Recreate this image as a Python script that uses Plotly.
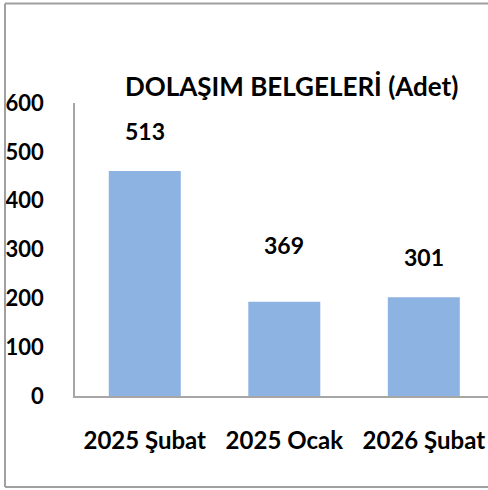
import plotly.graph_objects as go

categories = ["2025 Şubat", "2025 Ocak", "2026 Şubat"]
bar_values = [461, 193, 202]
label_texts = ["513", "369", "301"]
y_ticks = [0, 100, 200, 300, 400, 500, 600]
title_text = "DOLAŞIM BELGELERİ (Adet)"

FONT = "Lato"
label_shift = [40, 57, 40]

fig = go.Figure()
fig.add_trace(go.Bar(
    x=categories, y=bar_values,
    marker=dict(color="#8DB3E2", line=dict(width=0)),
    width=0.516,
    hoverinfo="skip",
))

for c, v, t, s in zip(categories, bar_values, label_texts, label_shift):
    fig.add_annotation(x=c, y=v, text=t, showarrow=False, yshift=s,
                       font=dict(family=FONT, size=23, color="#000000", weight="bold"),
                       xanchor="center", yanchor="middle")

fig.add_annotation(xref="paper", yref="paper", x=(291-75)/413, y=(490-86-94)/293,
                   text=title_text, showarrow=False, xanchor="center", yanchor="middle",
                   font=dict(family=FONT, size=26, color="#000000", weight="bold"))

# outer frame (left, top, bottom edges; right edge is outside the view)
frame = dict(color="#a0a0a0", width=2)
x_left = (5 - 75) / 413
y_top = (490 - 3.5 - 94) / 293
y_bot = (490 - 487 - 94) / 293
fig.add_shape(type="line", xref="paper", yref="paper", x0=x_left, x1=x_left, y0=y_bot, y1=y_top, line=frame)
fig.add_shape(type="line", xref="paper", yref="paper", x0=x_left, x1=1.05, y0=y_top, y1=y_top, line=frame)
fig.add_shape(type="line", xref="paper", yref="paper", x0=x_left, x1=1.05, y0=y_bot, y1=y_bot, line=frame)

fig.update_layout(
    width=488, height=490,
    margin=dict(l=75, r=0, t=103, b=94, autoexpand=False),
    paper_bgcolor="white", plot_bgcolor="white",
    showlegend=False,
    font=dict(family=FONT, color="#000000"),
    xaxis=dict(range=[-0.5, 2.46], showline=True, linecolor="#a6a6a6", linewidth=1.5,
               ticks="", showgrid=False, ticklabelstandoff=22, automargin=False,
               tickfont=dict(family=FONT, size=24, color="#000000", weight="bold")),
    yaxis=dict(range=[0, 600], tickvals=y_ticks, showline=True, linecolor="#a6a6a6",
               linewidth=1.5, ticks="", showgrid=False, zeroline=False, ticklabelstandoff=25,
               automargin=False,
               tickfont=dict(family=FONT, size=22, color="#000000", weight="bold")),
)

fig.write_html("out.html", config={"displayModeBar": False},
               post_script="document.body.style.margin='0';document.body.style.overflow='hidden';")
